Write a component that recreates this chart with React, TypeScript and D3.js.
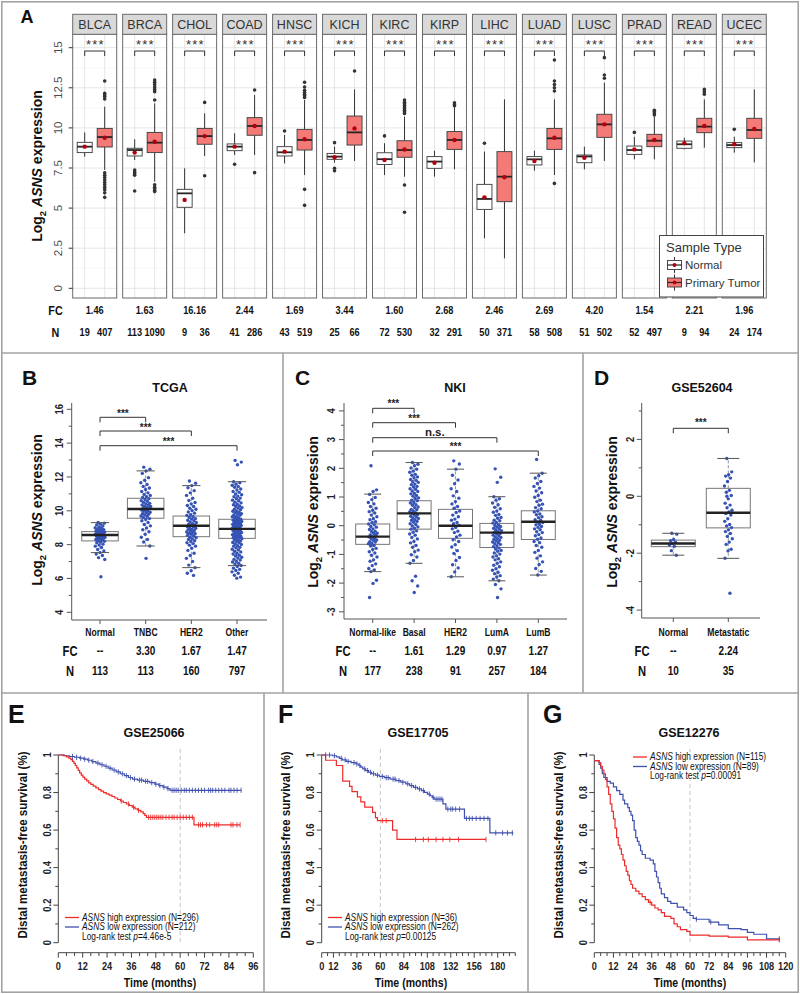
import React from "react";
import * as d3 from "d3";

const SANS = "'Liberation Sans', Arial, Helvetica, sans-serif";
const FRAME = "#a3a3a3";
const PT = "#3552b5";
const KM_RED = "#ee2b2b";
const KM_BLUE = "#3f4fae";

// ---------------- Panel A data ----------------
const cancers = ["BLCA", "BRCA", "CHOL", "COAD", "HNSC", "KICH", "KIRC", "KIRP", "LIHC", "LUAD", "LUSC", "PRAD", "READ", "UCEC"];
const fcA = ["1.46", "1.63", "16.16", "2.44", "1.69", "3.44", "1.60", "2.68", "2.46", "2.69", "4.20", "1.54", "2.21", "1.96"];
const nNormalA = [19, 113, 9, 41, 43, 25, 72, 32, 50, 58, 51, 52, 9, 24];
const nTumorA = [407, 1090, 36, 286, 519, 66, 530, 291, 371, 508, 502, 497, 94, 174];
// [lower whisker, q1, median, q3, upper whisker, mean]
const normalStatsA = [
  [8.21, 8.46, 8.83, 9.1, 9.72, 8.83],
  [8.0, 8.25, 8.62, 8.73, 9.29, 8.46],
  [3.43, 5.05, 5.92, 6.17, 7.48, 5.51],
  [8.31, 8.58, 8.83, 9.0, 9.66, 8.83],
  [7.79, 8.25, 8.48, 8.83, 9.56, 8.52],
  [7.83, 8.04, 8.21, 8.41, 8.83, 8.17],
  [7.06, 7.72, 8.05, 8.45, 9.04, 8.0],
  [6.96, 7.48, 7.9, 8.21, 8.58, 7.83],
  [3.12, 4.92, 5.57, 6.48, 8.52, 5.67],
  [7.33, 7.69, 8.04, 8.21, 8.58, 7.94],
  [7.42, 7.83, 8.22, 8.31, 8.83, 8.14],
  [8.04, 8.35, 8.62, 8.87, 9.45, 8.66],
  [8.66, 8.73, 8.98, 9.18, 9.39, 9.04],
  [8.46, 8.77, 8.93, 9.08, 9.45, 8.98],
];
const tumorStatsA = [
  [7.38, 8.81, 9.43, 9.97, 11.32, 9.39],
  [6.65, 8.46, 9.08, 9.72, 11.53, 9.14],
  [8.25, 8.98, 9.49, 9.97, 10.91, 9.49],
  [8.31, 9.54, 10.12, 10.64, 12.05, 10.12],
  [7.06, 8.62, 9.25, 9.91, 11.74, 9.29],
  [7.94, 8.93, 9.72, 10.74, 12.4, 9.97],
  [6.96, 8.17, 8.62, 9.2, 10.7, 8.65],
  [7.42, 8.66, 9.25, 9.77, 11.32, 9.25],
  [1.87, 5.4, 6.96, 8.52, 11.78, 6.92],
  [7.06, 8.66, 9.35, 9.97, 11.78, 9.39],
  [7.94, 9.41, 10.22, 10.85, 12.82, 10.22],
  [8.04, 8.83, 9.2, 9.6, 10.7, 9.25],
  [8.77, 9.7, 10.08, 10.6, 11.78, 10.12],
  [7.85, 9.35, 9.87, 10.6, 12.4, 9.93],
];
const normalOutliersA = [
  [], [7.37, 7.25, 7.15, 7.05, 6.07], [], [7.73], [9.81], [9.08, 7.48, 7.33], [9.5],
  [], [9.04], [], [], [9.72], [], [9.91],
];
const tumorOutliersA = [
  [12.92, 12.15, 12.05, 11.95, 11.8, 7.2, 7.05, 6.9, 6.75, 6.6, 6.45, 6.3, 6.15, 5.95, 5.67],
  [12.99, 12.85, 12.7, 12.55, 12.4, 12.26, 11.74, 6.45, 6.3, 6.2, 6.1, 6.03],
  [11.59, 7.02],
  [12.36, 7.21],
  [12.85, 12.55, 12.35, 12.2, 12.1, 12.0, 11.9, 6.17, 5.17],
  [13.55],
  [11.74, 11.6, 11.5, 11.4, 11.3, 11.2, 11.1, 11.0, 10.9, 6.44, 4.74],
  [11.57, 11.45, 11.38],
  [],
  [14.23, 12.92, 12.7, 12.5, 12.3, 6.54],
  [14.38, 13.3, 13.1],
  [11.1, 11.0, 10.9, 10.8],
  [12.4, 12.25, 12.1],
  [],
];
const yTicksA = [0, 2.5, 5, 7.5, 10, 12.5, 15];

// ---------------- Panel B (TCGA) ----------------
const catsB = ["Normal", "TNBC", "HER2", "Other"];
const fcB = ["--", "3.30", "1.67", "1.47"];
const nB = [113, 113, 160, 797];
const statsB = [
  [7.53, 8.22, 8.57, 8.77, 9.3],
  [7.92, 9.56, 10.11, 10.74, 12.36],
  [6.64, 8.47, 9.12, 9.69, 11.49],
  [6.76, 8.37, 8.93, 9.5, 11.72],
];
const ptsBNormal = [9.31, 9.27, 9.21, 9.17, 9.1, 9.04, 9.0, 8.97, 8.92, 8.89, 8.86, 8.82, 8.8, 8.77, 8.75, 8.72, 8.7, 8.67, 8.66, 8.63, 8.6, 8.59, 8.56, 8.54, 8.51, 8.5, 8.47, 8.44, 8.42, 8.39, 8.37, 8.33, 8.3, 8.28, 8.23, 8.2, 8.16, 8.11, 8.03, 7.98, 7.91, 7.83, 7.71, 7.62, 7.53, 7.44, 7.36, 7.23, 7.12, 6.1];
const ptsBTNBC = [12.58, 12.46, 12.36, 12.21, 11.96, 11.81, 11.66, 11.56, 11.44, 11.35, 11.26, 11.14, 11.06, 10.97, 10.91, 10.84, 10.79, 10.71, 10.67, 10.6, 10.56, 10.5, 10.44, 10.41, 10.35, 10.33, 10.27, 10.25, 10.19, 10.16, 10.13, 10.07, 10.05, 10.0, 9.97, 9.91, 9.89, 9.83, 9.8, 9.76, 9.69, 9.66, 9.6, 9.54, 9.49, 9.41, 9.31, 9.19, 9.11, 8.99, 8.88, 8.76, 8.61, 8.44, 8.31, 8.16, 7.92, 7.19];
const ptsBHER2 = [11.76, 11.63, 11.49, 11.36, 11.19, 11.06, 10.91, 10.74, 10.61, 10.49, 10.41, 10.31, 10.25, 10.15, 10.09, 10.01, 9.93, 9.86, 9.77, 9.73, 9.65, 9.61, 9.54, 9.51, 9.44, 9.41, 9.34, 9.31, 9.24, 9.21, 9.16, 9.13, 9.07, 9.05, 8.99, 8.97, 8.91, 8.89, 8.83, 8.81, 8.75, 8.73, 8.67, 8.64, 8.61, 8.55, 8.51, 8.44, 8.41, 8.34, 8.31, 8.23, 8.19, 8.11, 8.06, 7.97, 7.91, 7.79, 7.66, 7.49, 7.36, 7.19, 7.01, 6.79, 6.64, 6.46, 6.31, 6.18];
const ptsBOther = [12.98, 12.88, 12.72, 11.72, 11.66, 11.57, 11.51, 11.43, 11.39, 11.29, 11.23, 11.14, 11.09, 10.99, 10.95, 10.87, 10.83, 10.75, 10.71, 10.63, 10.59, 10.51, 10.47, 10.39, 10.36, 10.29, 10.26, 10.19, 10.16, 10.09, 10.06, 9.99, 9.97, 9.91, 9.89, 9.83, 9.81, 9.75, 9.73, 9.67, 9.65, 9.59, 9.57, 9.51, 9.49, 9.44, 9.42, 9.38, 9.37, 9.32, 9.31, 9.26, 9.25, 9.2, 9.19, 9.14, 9.13, 9.08, 9.07, 9.02, 9.01, 8.96, 8.95, 8.9, 8.89, 8.84, 8.83, 8.78, 8.77, 8.72, 8.71, 8.66, 8.65, 8.6, 8.59, 8.54, 8.53, 8.48, 8.47, 8.42, 8.41, 8.36, 8.35, 8.29, 8.27, 8.21, 8.19, 8.13, 8.11, 8.04, 8.01, 7.94, 7.91, 7.84, 7.81, 7.73, 7.69, 7.61, 7.57, 7.49, 7.45, 7.37, 7.33, 7.25, 7.21, 7.13, 7.09, 7.01, 6.97, 6.89, 6.85, 6.77, 6.71, 6.61, 6.54, 6.47, 6.39, 6.31, 6.19, 6.08, 6.02];
const ptsB = [ptsBNormal, ptsBTNBC, ptsBHER2, ptsBOther];

// ---------------- Panel C (NKI) ----------------
const catsC = ["Normal-like", "Basal", "HER2", "LumA", "LumB"];
const fcC = ["--", "1.61", "1.29", "0.97", "1.27"];
const nC = [177, 238, 91, 257, 184];
const statsC = [
  [-1.6, -0.65, -0.38, 0.06, 1.1],
  [-1.31, -0.12, 0.43, 0.87, 2.2],
  [-1.78, -0.44, 0.0, 0.57, 1.97],
  [-1.92, -0.76, -0.24, 0.08, 1.01],
  [-1.72, -0.48, 0.14, 0.52, 1.83],
];
const ptsCNormal = [2.09, 1.25, 1.19, 1.09, 0.98, 0.91, 0.81, 0.76, 0.67, 0.61, 0.54, 0.49, 0.44, 0.37, 0.31, 0.24, 0.21, 0.14, 0.11, 0.06, 0.03, -0.03, -0.05, -0.11, -0.13, -0.19, -0.21, -0.26, -0.27, -0.32, -0.33, -0.38, -0.39, -0.44, -0.45, -0.5, -0.51, -0.56, -0.57, -0.62, -0.63, -0.69, -0.71, -0.79, -0.83, -0.91, -0.95, -1.03, -1.09, -1.19, -1.24, -1.33, -1.39, -1.49, -1.54, -1.6, -1.9, -2.01, -2.5];
const ptsCBasal = [2.2, 2.14, 2.09, 2.01, 1.97, 1.9, 1.86, 1.79, 1.76, 1.7, 1.67, 1.61, 1.58, 1.53, 1.51, 1.45, 1.43, 1.37, 1.35, 1.29, 1.27, 1.21, 1.19, 1.13, 1.11, 1.05, 1.03, 0.97, 0.95, 0.89, 0.87, 0.81, 0.79, 0.73, 0.71, 0.65, 0.63, 0.57, 0.56, 0.51, 0.49, 0.45, 0.43, 0.39, 0.37, 0.33, 0.31, 0.27, 0.25, 0.21, 0.19, 0.15, 0.12, 0.07, 0.04, -0.01, -0.04, -0.09, -0.12, -0.18, -0.23, -0.29, -0.33, -0.41, -0.46, -0.55, -0.6, -0.69, -0.75, -0.85, -0.91, -1.01, -1.09, -1.21, -1.31, -1.76, -1.92, -2.1, -2.33];
const ptsCHER2 = [2.26, 2.15, 1.97, 1.76, 1.59, 1.46, 1.29, 1.19, 1.04, 0.96, 0.84, 0.76, 0.67, 0.61, 0.51, 0.46, 0.37, 0.31, 0.23, 0.19, 0.11, 0.07, 0.01, -0.06, -0.11, -0.19, -0.24, -0.33, -0.39, -0.49, -0.55, -0.66, -0.74, -0.87, -0.97, -1.11, -1.21, -1.36, -1.47, -1.61, -1.78];
const ptsCLumA = [1.98, 1.69, 1.51, 1.01, 0.94, 0.89, 0.79, 0.73, 0.64, 0.59, 0.51, 0.47, 0.39, 0.36, 0.29, 0.26, 0.19, 0.17, 0.11, 0.09, 0.03, 0.01, -0.03, -0.05, -0.09, -0.11, -0.15, -0.17, -0.21, -0.23, -0.27, -0.29, -0.33, -0.35, -0.39, -0.41, -0.45, -0.47, -0.51, -0.53, -0.57, -0.59, -0.63, -0.65, -0.7, -0.73, -0.78, -0.81, -0.86, -0.89, -0.95, -0.99, -1.05, -1.09, -1.15, -1.19, -1.26, -1.31, -1.38, -1.43, -1.5, -1.55, -1.62, -1.67, -1.74, -1.79, -1.86, -1.92, -2.05, -2.2, -2.5];
const ptsCLumB = [2.31, 1.83, 1.74, 1.66, 1.54, 1.47, 1.37, 1.31, 1.21, 1.15, 1.05, 0.99, 0.89, 0.84, 0.75, 0.71, 0.63, 0.59, 0.51, 0.48, 0.41, 0.38, 0.31, 0.28, 0.21, 0.19, 0.13, 0.11, 0.05, 0.03, -0.03, -0.06, -0.11, -0.14, -0.21, -0.24, -0.31, -0.35, -0.43, -0.47, -0.55, -0.59, -0.69, -0.75, -0.86, -0.93, -1.05, -1.13, -1.26, -1.35, -1.49, -1.59, -1.72];
const ptsC = [ptsCNormal, ptsCBasal, ptsCHER2, ptsCLumA, ptsCLumB];

// ---------------- Panel D (GSE52604) ----------------
const catsD = ["Normal", "Metastatic"];
const fcD = ["--", "2.24"];
const nD = [10, 35];
const statsD = [
  [-2.07, -1.77, -1.66, -1.54, -1.3],
  [-2.18, -1.11, -0.58, 0.28, 1.33],
];
const ptsDNormal = [-1.3, -1.33, -1.52, -1.56, -1.61, -1.66, -1.71, -1.76, -1.91, -2.07];
const ptsDMet = [1.33, 0.86, 0.76, 0.71, 0.64, 0.52, 0.36, 0.21, 0.14, 0.03, -0.09, -0.24, -0.31, -0.4, -0.49, -0.55, -0.61, -0.66, -0.79, -0.88, -0.99, -1.04, -1.1, -1.18, -1.24, -1.31, -1.41, -1.49, -1.61, -1.69, -1.86, -1.92, -2.18, -3.41, 0.0];
const ptsD = [ptsDNormal, ptsDMet];

// ---------------- Survival data ([month, survival]) ----------------
const kmEHigh = [[0, 1], [2.5, 0.996], [4, 0.99], [5.2, 0.983], [6.2, 0.975], [7, 0.966], [7.7, 0.955], [8.4, 0.944], [9.1, 0.931], [9.8, 0.918], [10.5, 0.905], [11.3, 0.893], [12.1, 0.882], [13, 0.872], [14, 0.862], [15, 0.852], [16, 0.843], [17.2, 0.834], [18.5, 0.825], [19.8, 0.816], [21, 0.808], [22.3, 0.8], [23.6, 0.793], [25, 0.786], [26.4, 0.779], [27.8, 0.771], [29.2, 0.763], [30.6, 0.755], [32, 0.747], [33.5, 0.739], [35, 0.731], [36.4, 0.722], [37.8, 0.713], [39.2, 0.705], [40.6, 0.697], [41.8, 0.688], [42.6, 0.678], [43.4, 0.668], [66.8, 0.628], [89.5, 0.628]];
const kmELow = [[0, 1], [3, 0.996], [5.5, 0.992], [8, 0.988], [10.5, 0.983], [12.5, 0.978], [14.5, 0.972], [16.5, 0.965], [18.5, 0.957], [20.5, 0.948], [22.5, 0.94], [24.5, 0.93], [26.5, 0.92], [28.5, 0.91], [30.5, 0.9], [32.5, 0.89], [34.5, 0.88], [36.5, 0.872], [39, 0.866], [42, 0.86], [45, 0.853], [47.5, 0.845], [49.5, 0.837], [51.5, 0.829], [53.5, 0.821], [55, 0.812], [90, 0.812]];
const censEHigh = [31, 34.5, 37, 39.5, 44.5, 45.5, 46.5, 47.5, 48.5, 49.5, 50.5, 51.5, 53, 54.5, 56, 57, 58.5, 60, 61.5, 63, 64.5, 66, 69, 70, 71, 73, 74.5, 77, 78, 79, 85, 86, 88, 89.5];
const censELow = [7, 9, 11, 13, 15, 17, 19.5, 21.5, 23.5, 25.5, 27.5, 29.5, 31.5, 33.5, 35.5, 37.5, 40, 41, 43, 44, 46, 48, 50, 52, 54, 56, 57, 58, 59, 60.5, 62, 63, 64.5, 66, 67.5, 69, 70.5, 72, 74, 75, 76, 77.5, 79, 80.5, 82, 84, 85, 86.5, 88, 90];

const kmFHigh = [[0, 1], [4, 0.972], [15, 0.944], [21.5, 0.861], [28.5, 0.833], [31, 0.805], [36.5, 0.777], [40, 0.75], [44, 0.722], [52, 0.694], [55, 0.666], [57, 0.65], [72.5, 0.6], [77, 0.55], [168, 0.55]];
const kmFLow = [[0, 1], [11, 0.996], [15, 0.99], [18, 0.982], [21, 0.974], [25, 0.966], [30, 0.959], [35, 0.952], [38, 0.944], [40, 0.935], [42, 0.926], [45, 0.917], [48, 0.908], [51, 0.9], [55, 0.893], [59, 0.886], [64, 0.879], [70, 0.872], [76, 0.864], [81, 0.855], [86, 0.846], [90, 0.837], [94, 0.828], [98, 0.819], [102, 0.81], [105, 0.801], [108, 0.792], [111, 0.783], [113, 0.774], [115, 0.765], [124, 0.74], [127, 0.712], [146, 0.662], [172, 0.585], [196, 0.585]];
const censFHigh = [62, 66, 96, 104, 109, 117, 124, 131, 140, 168];
const censFLow = [4, 8, 13, 20, 24, 27, 33, 36, 39, 44, 47, 50, 53, 57, 62, 66, 68, 73, 75, 79, 83, 88, 92, 96, 100, 104, 110, 114, 117, 119, 121, 123, 129, 132, 134, 137, 141, 148, 151, 154, 158, 162, 166, 170, 178, 185, 190, 195];

const kmGHigh = [[0, 0.97], [3, 0.96], [4, 0.94], [5, 0.92], [6, 0.9], [7, 0.87], [8, 0.83], [9, 0.79], [10, 0.74], [11, 0.7], [12, 0.66], [13, 0.61], [14, 0.56], [15, 0.52], [16, 0.5], [17, 0.47], [18, 0.44], [19, 0.41], [20, 0.38], [21, 0.36], [22, 0.33], [23, 0.31], [24, 0.29], [26, 0.275], [28, 0.26], [30, 0.245], [32, 0.23], [34, 0.215], [36, 0.2], [38, 0.185], [40, 0.175], [42, 0.16], [44, 0.14], [48, 0.13], [50, 0.1], [52, 0.085], [54, 0.07], [58, 0.06], [60, 0.04], [72, 0.035], [84, 0.03], [96, 0.015], [116, 0.015]];
const kmGLow = [[0, 0.97], [3, 0.95], [4, 0.93], [5, 0.9], [6, 0.88], [8, 0.86], [10, 0.85], [12, 0.83], [14, 0.81], [16, 0.79], [18, 0.76], [19, 0.74], [21, 0.72], [22, 0.7], [23, 0.68], [24, 0.65], [25, 0.6], [26, 0.56], [27, 0.54], [28, 0.52], [29, 0.49], [30, 0.47], [32, 0.45], [35, 0.44], [37, 0.42], [38, 0.38], [39, 0.35], [40, 0.32], [41, 0.29], [42, 0.26], [44, 0.24], [46, 0.22], [48, 0.21], [52, 0.19], [56, 0.175], [58, 0.16], [60, 0.145], [62, 0.13], [64, 0.125], [72, 0.11], [78, 0.095], [84, 0.075], [92, 0.07], [96, 0.055], [100, 0.045], [108, 0.02], [116, 0.02]];
const censGHigh = [35, 116];
const censGLow = [64, 73, 116];

// ---------------- helpers ----------------
function jit(i: number, half: number) {
  const f = (i * 0.6180339887 + 0.31) % 1;
  return (f - 0.5) * 2 * half;
}

function survAt(steps: number[][], t: number) {
  let s = steps[0][1];
  for (const p of steps) if (p[0] <= t) s = p[1];
  return s;
}

// condensed text (horizontal squeeze, like Arial Narrow)
type NTProps = {
  x: number; y: number; size: number; anchor?: string; bold?: boolean; rot?: boolean; sx?: number;
  fill?: string; children: React.ReactNode;
};
function NT({ x, y, size, anchor = "middle", bold = true, rot = false, sx = 0.8, fill = "#111", children }: NTProps) {
  return (
    <text transform={`translate(${x},${y})${rot ? " rotate(-90)" : ""} scale(${sx},1)`} textAnchor={anchor}
      fontFamily={SANS} fontWeight={bold ? "bold" : "normal"} fontSize={size} fill={fill}>
      {children}
    </text>
  );
}

function YTitle({ x, y, size }: { x: number; y: number; size: number }) {
  return (
    <text transform={`translate(${x},${y}) rotate(-90)`} textAnchor="middle" fontFamily={SANS} fontWeight="bold" fontSize={size} fill="#111">
      Log<tspan fontSize={size * 0.68} dy={size * 0.28}>2</tspan>
      <tspan dy={-size * 0.28}> </tspan>
      <tspan fontStyle="italic">ASNS</tspan> expression
    </text>
  );
}

function PanelLetter({ x, y, t, size }: { x: number; y: number; t: string; size: number }) {
  return (
    <text x={x} y={y} fontFamily={SANS} fontWeight="bold" fontSize={size} fill="#111">{t}</text>
  );
}

// ---------------- Panel A ----------------
function PanelA() {
  const y = d3.scaleLinear().domain([0, 15]).range([288.3, 47.7]);
  const stripTop = 14.3, top = 34.3, bottom = 298;
  const fx = d3.scaleBand().domain(cancers).range([72.7, 766.3]).paddingInner(1 - 44 / 49.97).paddingOuter(0);
  const fw = fx.bandwidth();
  const xin = d3.scalePoint().domain(["Normal", "Primary Tumor"]).range([12, 32]);
  const minors = [1.25, 3.75, 6.25, 8.75, 11.25, 13.75];
  const bw = 15;
  const drawBox = (cx: number, s: number[], fill: string, outl: number[], key: string) => (
    <g key={key}>
      <line x1={cx} x2={cx} y1={y(s[3])} y2={y(s[4])} stroke="#333" strokeWidth={1} />
      <line x1={cx} x2={cx} y1={y(s[1])} y2={y(s[0])} stroke="#333" strokeWidth={1} />
      <rect x={cx - bw / 2} y={y(s[3])} width={bw} height={y(s[1]) - y(s[3])} fill={fill} stroke="#3a3a3a" strokeWidth={0.9} />
      <line x1={cx - bw / 2} x2={cx + bw / 2} y1={y(s[2])} y2={y(s[2])} stroke="#262626" strokeWidth={1.8} />
      {outl.map((v, k) => <circle key={k} cx={cx} cy={y(v)} r={1.8} fill="#333" />)}
      <circle cx={cx} cy={y(s[5])} r={2.2} fill="#b3000c" />
    </g>
  );
  return (
    <g>
      <PanelLetter x={20.5} y={23} t="A" size={18} />
      {cancers.map((c, i) => {
        const x0 = fx(c) as number;
        const xn = x0 + (xin("Normal") as number);
        const xt = x0 + (xin("Primary Tumor") as number);
        return (
          <g key={c}>
            <rect x={x0} y={top} width={fw} height={bottom - top} fill="#fff" />
            {minors.map((v) => <line key={"m" + v} x1={x0} x2={x0 + fw} y1={y(v)} y2={y(v)} stroke="#f2f2f2" strokeWidth={0.6} />)}
            {yTicksA.map((v) => <line key={"g" + v} x1={x0} x2={x0 + fw} y1={y(v)} y2={y(v)} stroke="#e3e3e3" strokeWidth={0.9} />)}
            {[xn, xt].map((gx, k) => <line key={"v" + k} x1={gx} x2={gx} y1={top} y2={bottom} stroke="#e3e3e3" strokeWidth={0.9} />)}
            {drawBox(xn, normalStatsA[i], "#ffffff", normalOutliersA[i], "n")}
            {drawBox(xt, tumorStatsA[i], "#f47a78", tumorOutliersA[i], "t")}
            <rect x={x0} y={top} width={fw} height={bottom - top} fill="none" stroke="#6b6b6b" strokeWidth={1} />
            <rect x={x0} y={stripTop} width={fw} height={top - stripTop} fill="#d9d9d9" stroke="#6b6b6b" strokeWidth={1} />
            <text x={x0 + fw / 2} y={28.5} textAnchor="middle" fontFamily={SANS} fontSize={12.5} fill="#333">{c}</text>
            <path d={`M${xn},56 V51 H${xt} V56`} fill="none" stroke="#333" strokeWidth={1} />
            <text x={x0 + fw / 2 + 0.8} y={48.5} textAnchor="middle" fontFamily={SANS} fontSize={13} letterSpacing={1.2} fill="#333">***</text>
            <NT x={x0 + fw / 2} y={314} size={11.5} sx={0.8}>{fcA[i]}</NT>
            <NT x={xn} y={336} size={11.5} sx={0.8}>{String(nNormalA[i])}</NT>
            <NT x={xt} y={336} size={11.5} sx={0.8}>{String(nTumorA[i])}</NT>
          </g>
        );
      })}
      {yTicksA.map((v) => (
        <g key={v}>
          <line x1={68.7} x2={72.7} y1={y(v)} y2={y(v)} stroke="#333" strokeWidth={1} />
          <text transform={`translate(61.5,${y(v)}) rotate(-90)`} textAnchor="middle" fontFamily={SANS} fontSize={11.5} fill="#4d4d4d">{String(v)}</text>
        </g>
      ))}
      <YTitle x={41.7} y={166} size={14} />
      <NT x={55.5} y={314.5} size={13.5} sx={0.8}>FC</NT>
      <NT x={55.5} y={336.5} size={13.5} sx={0.8}>N</NT>
      {/* legend */}
      <g>
        <rect x={659.5} y={235.5} width={104} height={61.5} fill="#fff" stroke="#444" strokeWidth={1} />
        <text x={666} y={252} fontFamily={SANS} fontSize={13} fill="#333">Sample Type</text>
        {[["Normal", "#ffffff", 265], ["Primary Tumor", "#f47a78", 282.5]].map(([lab, fill, cy]) => (
          <g key={lab as string}>
            <line x1={674.5} x2={674.5} y1={(cy as number) - 8} y2={(cy as number) + 8} stroke="#333" strokeWidth={1} />
            <rect x={667.5} y={(cy as number) - 4.5} width={14} height={9} fill={fill as string} stroke="#3a3a3a" strokeWidth={0.9} />
            <line x1={667.5} x2={681.5} y1={cy as number} y2={cy as number} stroke="#262626" strokeWidth={1.2} />
            <circle cx={674.5} cy={cy as number} r={2} fill="#b3000c" />
            <text x={685} y={(cy as number) + 4} fontFamily={SANS} fontSize={11.5} fill="#333">{lab}</text>
          </g>
        ))}
      </g>
    </g>
  );
}

// ---------------- Strip + box (panels B, C, D) ----------------
type SBProps = {
  cats: string[]; stats: number[][]; pts: number[][];
  x: d3.ScalePoint<string>; y: d3.ScaleLinear<number, number>;
  boxW: number; half: number;
};
function StripBox({ cats, stats, pts, x, y, boxW, half }: SBProps) {
  return (
    <g>
      {cats.map((c, i) => {
        const s = stats[i];
        const cx = x(c) as number;
        return (
          <g key={"b" + c}>
            <line x1={cx} x2={cx} y1={y(s[3])} y2={y(s[4])} stroke="#8a8a8a" strokeDasharray="3,2" strokeWidth={0.9} />
            <line x1={cx} x2={cx} y1={y(s[1])} y2={y(s[0])} stroke="#8a8a8a" strokeDasharray="3,2" strokeWidth={0.9} />
            <rect x={cx - boxW / 2} y={y(s[3])} width={boxW} height={y(s[1]) - y(s[3])} fill="#fff" stroke="#777" strokeWidth={1} />
          </g>
        );
      })}
      {cats.map((c, i) => {
        const cx = x(c) as number;
        return (
          <g key={"p" + c}>
            {pts[i].map((v, k) => <circle key={k} cx={cx + jit(k, half)} cy={y(v)} r={1.7} fill={PT} />)}
          </g>
        );
      })}
      {cats.map((c, i) => {
        const s = stats[i];
        const cx = x(c) as number;
        const cw = boxW / 4;
        return (
          <g key={"m" + c}>
            <line x1={cx - boxW / 2} x2={cx + boxW / 2} y1={y(s[2])} y2={y(s[2])} stroke="#222" strokeWidth={2.4} />
            <line x1={cx - cw} x2={cx + cw} y1={y(s[4])} y2={y(s[4])} stroke="#555" strokeWidth={1} />
            <line x1={cx - cw} x2={cx + cw} y1={y(s[0])} y2={y(s[0])} stroke="#555" strokeWidth={1} />
          </g>
        );
      })}
    </g>
  );
}

type AxProps = {
  axisX: number; top: number; bottom: number; right: number;
  y: d3.ScaleLinear<number, number>; majors: number[]; minors: number[];
  labelX: number; x: d3.ScalePoint<string>; cats: string[];
};
function LAxes({ axisX, top, bottom, right, y, majors, minors, labelX, x, cats }: AxProps) {
  return (
    <g>
      <line x1={axisX} x2={axisX} y1={top} y2={bottom} stroke="#555" strokeWidth={1} />
      <line x1={axisX} x2={right} y1={bottom} y2={bottom} stroke="#555" strokeWidth={1} />
      {minors.map((v) => <line key={"n" + v} x1={axisX - 3} x2={axisX} y1={y(v)} y2={y(v)} stroke="#555" strokeWidth={1} />)}
      {majors.map((v) => (
        <g key={"j" + v}>
          <line x1={axisX - 5} x2={axisX} y1={y(v)} y2={y(v)} stroke="#555" strokeWidth={1} />
          <NT x={labelX} y={y(v)} size={11.5} rot sx={0.82} fill="#222">{String(v)}</NT>
        </g>
      ))}
      {cats.map((c) => (
        <g key={c}>
          <line x1={x(c) as number} x2={x(c) as number} y1={bottom} y2={bottom + 4} stroke="#555" strokeWidth={1} />
          <NT x={x(c) as number} y={636} size={11} sx={0.78}>{c}</NT>
        </g>
      ))}
    </g>
  );
}

function Bracket({ x1, x2, yb, label, ty }: { x1: number; x2: number; yb: number; label: string; ty: number }) {
  return (
    <g>
      <path d={`M${x1},${yb + 5} V${yb} H${x2} V${yb + 5}`} fill="none" stroke="#333" strokeWidth={1} />
      <text x={(x1 + x2) / 2} y={ty} textAnchor="middle" fontFamily={SANS} fontWeight="bold" fontSize={label === "n.s." ? 11.5 : 10} fill="#222">{label}</text>
    </g>
  );
}

function FCRows({ labX, xs, fc, n }: { labX: number; xs: number[]; fc: string[]; n: number[] }) {
  return (
    <g>
      <NT x={labX} y={655.5} size={14} sx={0.8}>FC</NT>
      <NT x={labX} y={675.5} size={14} sx={0.8}>N</NT>
      {xs.map((xx, i) => (
        <g key={i}>
          <NT x={xx} y={655} size={12.5} sx={0.8}>{fc[i]}</NT>
          <NT x={xx} y={675} size={12.5} sx={0.8}>{String(n[i])}</NT>
        </g>
      ))}
    </g>
  );
}

function PanelB() {
  const x = d3.scalePoint<string>().domain(catsB).range([100, 237]);
  const y = d3.scaleLinear().domain([4, 16]).range([612.3, 409.3]);
  return (
    <g>
      <PanelLetter x={22} y={385} t="B" size={21} />
      <text x={170} y={392} textAnchor="middle" fontFamily={SANS} fontWeight="bold" fontSize={12.5} fill="#111">TCGA</text>
      <LAxes axisX={71.7} top={403} bottom={620} right={267} y={y} majors={[4, 6, 8, 10, 12, 14, 16]} minors={[5, 7, 9, 11, 13, 15]} labelX={63} x={x} cats={catsB} />
      <StripBox cats={catsB} stats={statsB} pts={ptsB} x={x} y={y} boxW={36.5} half={5} />
      {catsB.slice(1).map((c, i) => (
        <Bracket key={c} x1={x("Normal") as number} x2={x(c) as number} yb={[417.3, 431, 445.7][i]} ty={[416.5, 430.5, 445][i]} label="***" />
      ))}
      <YTitle x={42} y={510} size={14} />
      <FCRows labX={70} xs={catsB.map((c) => x(c) as number)} fc={fcB} n={nB} />
    </g>
  );
}

function PanelC() {
  const x = d3.scalePoint<string>().domain(catsC).range([372.7, 538.3]);
  const y = d3.scaleLinear().domain([-3, 4]).range([611.8, 410.9]);
  const labels = ["***", "***", "n.s.", "***"];
  return (
    <g>
      <PanelLetter x={295} y={385} t="C" size={21} />
      <text x={455} y={392} textAnchor="middle" fontFamily={SANS} fontWeight="bold" fontSize={12.5} fill="#111">NKI</text>
      <LAxes axisX={344} top={403} bottom={619} right={567} y={y} majors={[-3, -2, -1, 0, 1, 2, 3, 4]} minors={[-2.5, -1.5, -0.5, 0.5, 1.5, 2.5, 3.5]} labelX={335} x={x} cats={catsC} />
      <StripBox cats={catsC} stats={statsC} pts={ptsC} x={x} y={y} boxW={34} half={4.5} />
      {catsC.slice(1).map((c, i) => (
        <Bracket key={c} x1={x("Normal-like") as number} x2={x(c) as number} yb={[408.3, 422.7, 437.7, 451][i]} ty={[407, 421.5, 436, 450][i]} label={labels[i]} />
      ))}
      <YTitle x={318} y={512} size={14} />
      <FCRows labX={343} xs={catsC.map((c) => x(c) as number)} fc={fcC} n={nC} />
    </g>
  );
}

function PanelD() {
  const x = d3.scalePoint<string>().domain(catsD).range([673.3, 728.3]);
  const y = d3.scaleLinear().domain([-4, 2]).range([610.1, 439.4]);
  return (
    <g>
      <PanelLetter x={594} y={385} t="D" size={21} />
      <text x={702} y={392} textAnchor="middle" fontFamily={SANS} fontWeight="bold" fontSize={12.5} fill="#111">GSE52604</text>
      <LAxes axisX={641.7} top={403} bottom={618} right={760} y={y} majors={[-4, -2, 0, 2]} minors={[-3, -1, 1, 3]} labelX={634} x={x} cats={catsD} />
      <StripBox cats={catsD} stats={statsD} pts={ptsD} x={x} y={y} boxW={44} half={4} />
      <Bracket x1={x("Normal") as number} x2={x("Metastatic") as number} yb={428.3} ty={426} label="***" />
      <YTitle x={617} y={512} size={14} />
      <FCRows labX={642} xs={catsD.map((c) => x(c) as number)} fc={fcD} n={nD} />
    </g>
  );
}

// ---------------- Survival panels ----------------
type KMProps = {
  letter: string; letterX: number; title: string; titleX: number;
  x0: number; x1: number; dmax: number; axisEnd: number; step: number; labels: number[];
  high: number[][]; low: number[][]; censHigh: number[]; censLow: number[];
  legX: number; legYs: number[]; nHigh: number; nLow: number; p: string; legendBg?: boolean;
  xTitleX: number;
};
function KMPanel(props: KMProps) {
  const { letter, letterX, title, titleX, x0, x1, dmax, axisEnd, step, labels, high, low, censHigh, censLow, legX, legYs, nHigh, nLow, p, legendBg, xTitleX } = props;
  const x = d3.scaleLinear().domain([0, dmax]).range([x0, x1]);
  const y = d3.scaleLinear().domain([0, 1]).range([942.7, 755]);
  const line = d3.line<number[]>().x((d) => x(d[0])).y((d) => y(d[1])).curve(d3.curveStepAfter);
  const ticks: number[] = [];
  for (let t = 0; t <= axisEnd + 0.001; t += step) ticks.push(t);
  const yMaj = [0, 0.2, 0.4, 0.6, 0.8, 1];
  const yMin = [0.1, 0.3, 0.5, 0.7, 0.9];
  const cens = (arr: number[], steps: number[][], col: string) =>
    arr.map((t, k) => <line key={k} x1={x(t)} x2={x(t)} y1={y(survAt(steps, t)) - 2.6} y2={y(survAt(steps, t)) + 2.6} stroke={col} strokeWidth={0.9} />);
  return (
    <g>
      <PanelLetter x={letterX} y={723} t={letter} size={25} />
      <text x={titleX} y={737} textAnchor="middle" fontFamily={SANS} fontWeight="bold" fontSize={12.5} fill="#111">{title}</text>
      <line x1={x(60)} x2={x(60)} y1={749} y2={945} stroke="#c4c4c4" strokeWidth={1} strokeDasharray="4,3" />
      {legendBg && <rect x={legX - 3} y={legYs[0] - 5} width={x1 - legX + 3} height={legYs[2] - legYs[0] + 9} fill="#fff" />}
      {/* y axis */}
      <line x1={x0} x2={x0} y1={y(0)} y2={y(1)} stroke="#444" strokeWidth={1} />
      {yMin.map((v) => <line key={v} x1={x0 - 3} x2={x0} y1={y(v)} y2={y(v)} stroke="#444" strokeWidth={1} />)}
      {yMaj.map((v) => (
        <g key={v}>
          <line x1={x0 - 5} x2={x0} y1={y(v)} y2={y(v)} stroke="#444" strokeWidth={1} />
          <NT x={x0 - 7.5} y={y(v)} size={11.5} rot sx={0.82} fill="#222">{String(v)}</NT>
        </g>
      ))}
      <text transform={`translate(${x0 - 31.5},845) rotate(-90)`} textAnchor="middle" fontFamily={SANS} fontWeight="bold" fontSize={12} fill="#111" textLength={187} lengthAdjust="spacingAndGlyphs">Distal metastasis-free survival (%)</text>
      {/* x axis */}
      <line x1={x0} x2={x(axisEnd)} y1={952.7} y2={952.7} stroke="#444" strokeWidth={1} />
      {ticks.map((t) => (
        <line key={t} x1={x(t)} x2={x(t)} y1={952.7} y2={labels.includes(t) ? 957.7 : 956} stroke="#444" strokeWidth={1} />
      ))}
      {labels.map((t) => (
        <NT key={t} x={x(t)} y={969.5} size={11.5} sx={0.8} fill="#222">{String(t)}</NT>
      ))}
      <NT x={xTitleX} y={986.5} size={13.5} sx={0.78}>Time (months)</NT>
      {/* curves */}
      <path d={line(low) as string} fill="none" stroke={KM_BLUE} strokeWidth={1.2} />
      <path d={line(high) as string} fill="none" stroke={KM_RED} strokeWidth={1.2} />
      {cens(censLow, low, KM_BLUE)}
      {cens(censHigh, high, KM_RED)}
      {/* legend */}
      <line x1={legX} x2={legX + 14} y1={legYs[0]} y2={legYs[0]} stroke={KM_RED} strokeWidth={1.3} />
      <line x1={legX} x2={legX + 14} y1={legYs[1]} y2={legYs[1]} stroke={KM_BLUE} strokeWidth={1.3} />
      <NT x={legX + 17} y={legYs[0] + 3.3} size={10} sx={0.84} anchor="start" bold={false}><tspan fontStyle="italic">ASNS</tspan> high expression (N={nHigh})</NT>
      <NT x={legX + 17} y={legYs[1] + 3.3} size={10} sx={0.84} anchor="start" bold={false}><tspan fontStyle="italic">ASNS</tspan> low expression (N={nLow})</NT>
      <NT x={legX + 17} y={legYs[2] + 3.3} size={10} sx={0.84} anchor="start" bold={false}>Log-rank test <tspan fontStyle="italic">p</tspan>={p}</NT>
    </g>
  );
}

export default function App() {
  return (
    <svg width={800} height={994} viewBox="0 0 800 994" style={{ position: "absolute", left: 0, top: 0, background: "#fff" }}>
      <rect x={0} y={0} width={800} height={994} fill="#fff" />
      <PanelA />
      <PanelB />
      <PanelC />
      <PanelD />
      <KMPanel letter="E" letterX={8} title="GSE25066" titleX={154} x0={58.3} x1={253.3} dmax={96} axisEnd={96} step={4}
        labels={[0, 12, 24, 36, 48, 60, 72, 84, 96]} high={kmEHigh} low={kmELow} censHigh={censEHigh} censLow={censELow}
        legX={65} legYs={[917.5, 927, 936.5]} nHigh={296} nLow={212} p="4.46e-5" xTitleX={160} />
      <KMPanel letter="F" letterX={278} title="GSE17705" titleX={418} x0={321.7} x1={497.7} dmax={180} axisEnd={198} step={6}
        labels={[0, 12, 36, 60, 84, 108, 132, 156, 180]} high={kmFHigh} low={kmFLow} censHigh={censFHigh} censLow={censFLow}
        legX={328} legYs={[917.5, 927, 936.5]} nHigh={36} nLow={262} p="0.00125" xTitleX={411} />
      <KMPanel letter="G" letterX={543} title="GSE12276" titleX={689} x0={594.3} x1={785.7} dmax={120} axisEnd={120} step={4}
        labels={[0, 12, 24, 36, 48, 60, 72, 84, 96, 108, 120]} high={kmGHigh} low={kmGLow} censHigh={censGHigh} censLow={censGLow}
        legX={633} legYs={[757, 766.5, 776]} nHigh={115} nLow={89} p="0.00091" legendBg xTitleX={690} />
      {/* frame & separators */}
      <g stroke={FRAME} strokeWidth={1.6} fill="none">
        <rect x={1.8} y={1.8} width={796.4} height={990.4} />
        <line x1={1.8} x2={798.2} y1={353} y2={353} />
        <line x1={1.8} x2={798.2} y1={693} y2={693} />
        <line x1={283} x2={283} y1={353} y2={693} />
        <line x1={583} x2={583} y1={353} y2={693} />
        <line x1={264} x2={264} y1={693} y2={992} />
        <line x1={528} x2={528} y1={693} y2={992} />
      </g>
    </svg>
  );
}
